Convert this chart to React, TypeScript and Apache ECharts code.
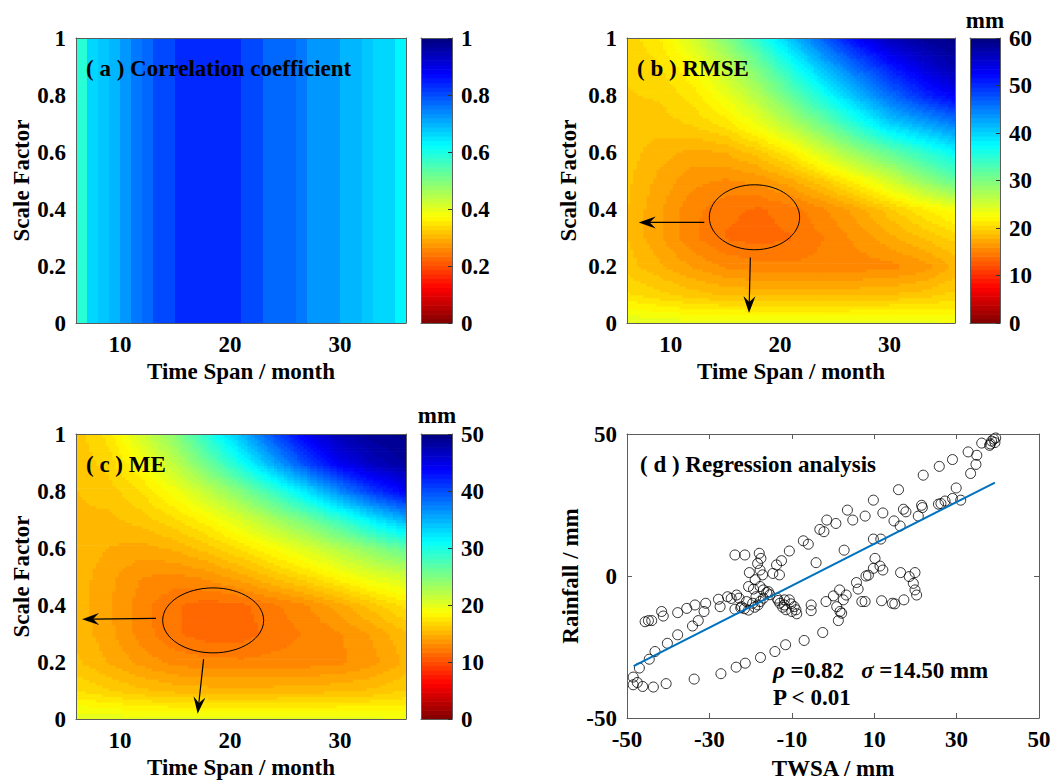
import React, { useEffect, useRef } from "react";
import * as echarts from "echarts";

const FONT = "'Liberation Serif', 'Times New Roman', Times, serif";

// ---------------- Panel (a): correlation coefficient per time span (month stripes) ----------------
const corrStartMonths = [6, 7, 8, 9, 10, 11, 12, 13, 14, 15, 16, 17, 18, 19, 20, 21, 22, 23, 24, 25, 26, 27, 28, 29, 30, 31, 32, 33, 34, 35];
const corrValues = [0.58, 0.66, 0.68, 0.7, 0.73, 0.75, 0.78, 0.8, 0.8, 0.83, 0.83, 0.83, 0.83, 0.83, 0.83, 0.8, 0.8, 0.78, 0.77, 0.77, 0.75, 0.73, 0.73, 0.72, 0.7, 0.7, 0.68, 0.66, 0.66, 0.63];

// ---------------- Panels (b), (c): grid nodes ----------------
const gridMonths = [6, 9, 12, 15, 18, 21, 24, 27, 30, 33, 36];
const gridScales = [0, 0.1, 0.2, 0.3, 0.4, 0.5, 0.6, 0.7, 0.8, 0.9, 1.0];

// RMSE (mm), one row per scale factor (0 -> 1), columns follow gridMonths
const rmseRows = [
  [24.5, 24.3, 24, 24, 24, 24, 24, 24, 24, 23.8, 23.5],
  [20.8, 20, 19.2, 18.7, 18.5, 18.5, 18.5, 18.6, 18.8, 19.2, 20],
  [19.2, 18, 16.8, 15.8, 15.3, 15.2, 15.3, 15.4, 15.6, 16.3, 18],
  [18.8, 17, 15.2, 14, 13.7, 14, 15, 16.2, 17.5, 18.8, 20],
  [18.8, 17, 15.3, 14.3, 13.9, 14.5, 15.8, 17.3, 19.3, 21.3, 23],
  [19, 17.5, 16.2, 15.8, 16.2, 17.5, 19.5, 22, 25, 28.5, 31.5],
  [19.2, 18.2, 17.5, 17.8, 19.2, 21.5, 25, 28.5, 31.5, 34.5, 37.5],
  [19.4, 19.2, 19.8, 21, 23.5, 27, 31, 35.5, 40, 42.5, 45],
  [19.6, 19.8, 21, 23.5, 27, 31.5, 36.5, 41.5, 46, 50, 53],
  [19.8, 20.5, 22.5, 26, 30.5, 36, 41.5, 46.5, 51, 54.5, 57.5],
  [20, 21.5, 25, 29.5, 35, 41, 47, 52.5, 56.5, 58.5, 59.5],
];

// ME (mm)
const meRows = [
  [20.3, 20.2, 20, 20, 20, 20, 20, 20, 20, 19.8, 19.5],
  [17.2, 16.5, 15.8, 15.4, 15.2, 15.2, 15.2, 15.3, 15.5, 15.8, 16.5],
  [15.8, 14.8, 13.8, 13, 12.8, 12.7, 12.8, 12.9, 13.1, 13.8, 15],
  [15.4, 14.3, 12.9, 11.8, 11.3, 11.3, 12, 12.6, 13.2, 14.2, 15.5],
  [15.3, 14.2, 12.8, 11.8, 11.3, 11.5, 12.3, 13.2, 14.5, 16, 17.5],
  [15.3, 14.3, 13.3, 13, 13.5, 14.5, 15.8, 17, 18.5, 20, 21],
  [15.4, 14.8, 14.5, 15, 16, 17.3, 18.8, 20.5, 22.5, 24.5, 26.5],
  [15.5, 15.4, 16, 17, 18.5, 20.5, 23, 25.5, 28.5, 32, 35],
  [15.6, 16, 17.2, 19.2, 21.8, 24.8, 28.5, 32.5, 37, 41, 44],
  [15.8, 16.8, 19, 22, 26, 30.5, 35.5, 40.5, 44.5, 47, 48.5],
  [16, 17.5, 21, 24.5, 29.5, 34.5, 40, 44.5, 47.5, 49, 49.5],
];

// colour bar ranges / tick steps
const corrMax = 1, corrStep = 0.2;
const rmseMax = 60, rmseStep = 10;
const meMax = 50, meStep = 10;
const colormapLevels = 64;

// ---------------- Panel (d): regression scatter ----------------
const twsa = [
  38.5, 39.0, 39.3, 38.2, 38.0, 39.5, 36.1, 32.8, 34.9, 34.7, 33.4, 29.0, 25.8, 21.9, 15.9, 29.9, 31.0, 29.0, 27.2, 26.2, 25.6, 21.5, 21.7, 20.7, 17.7, 17.1, 16.3, 14.8, 12.1, 9.8, 7.8, 11.6, 9.8,
  10.2, 9.8, 12.1, 11.4, 8.0, 8.6, 16.4, 19.9, 18.5, 19.5, 19.9, 20.3, 17.2, 15.0, 14.4, 11.8, 7.8, 7.0, 5.7, 6.1,
  -1.7, 0.1, 1.6, 3.2, 2.5, 0.9, 1.7, 2.1, 1.3,
  4.8, 3.5, 0.7, -1.5, -3.2, -2.2, -7.2, -6.0, -10.6, 2.7, -4.1, -21.4, -23.8, -17.9, -17.5, -12.5, -13.7, -13.0, -14.6, -20.3, -18.3, -17.7, -17.1, -18.9,
  -20.5, -19.3, -17.7, -16.9, -15.7, -23.4, -22.8, -23.8, -22.2, -20.5, -19.5, -18.7, -17.7, -16.9, -16.1, -15.3, -21.0, -19.0, -21.5, -18.2,
  -13.6, -12.9, -13.3, -11.8, -11.4, -10.6, -10.2, -9.4, -9.0, -8.8, -11.8, -5.3, -5.3, -12.2, -10.0,
  -25.6, -27.8, -27.4, -30.9, -31.3, -33.5, -35.5, -37.7, -32.7, -34.1, -41.6, -41.2, -45.6, -44.8, -44.0, -24.7, -22.4,
  -37.7, -40.2, -43.2, -44.6, -47.0, -48.5, -48.5, -47.5, -46.2, -43.6, -40.5, -33.7, -27.2, -23.5, -21.3, -17.6, -14.1, -11.5, -7.0, -2.5,
];
const rainfall = [
  47.5, 48.2, 47.0, 46.5, 46.0, 48.6, 46.8, 43.7, 42.5, 39.3, 36.1, 41.0, 38.6, 35.5, 30.4, 31.0, 26.7, 27.3, 26.4, 25.5, 25.3, 24.9, 24.1, 21.1, 22.6, 23.5, 17.6, 19.4, 22.2, 26.7, 21.1, 13.0, 13.0,
  6.2, 2.7, 2.1, 3.5, 0.0, 0.3, 1.2, 1.2, -0.2, -2.6, -4.9, -6.7, -8.4, -9.8, -9.6, -8.7, -9.0, -9.0, -2.3, -4.6,
  -9.0, -7.0, -4.9, -6.7, -8.4, -10.8, -12.5, -13.1, -15.7,
  19.7, 23.2, 18.5, 19.7, 16.4, 15.6, 12.4, 11.2, 8.8, 9.1, 4.7, 7.4, 7.4, 8.0, 6.2, 5.4, 3.9, 0.4, 0.9, 1.2, 4.4, 2.1, 0.4, -1.3,
  -3.7, -4.6, -3.7, -4.9, -5.5, -6.7, -7.8, -11.7, -10.8, -12.0, -9.6, -7.3, -9.0, -7.8, -5.8, -6.6, -9.0, -11.0, -11.5, -10.2,
  -7.8, -9.6, -8.6, -10.2, -11.9, -8.4, -9.8, -10.8, -11.9, -13.3, -8.4, -10.2, -12.2, -11.0, -12.5,
  -7.3, -8.2, -10.8, -9.6, -12.5, -10.2, -11.4, -12.9, -15.7, -17.6, -12.5, -14.1, -16.1, -15.7, -15.7, -7.9, -11.2,
  -20.7, -23.7, -26.6, -29.3, -32.4, -35.6, -38.3, -37.5, -38.9, -39.1, -37.9, -36.3, -34.4, -32.1, -30.7, -28.7, -26.6, -24.2, -22.7, -19.9,
];
const fitX = [-48.4, 39.3];
const fitY = [-31.7, 32.9];

// annotations (data coordinates)
const rmseEllipse = { t: 17.66, s: 0.371, dt: 4.13, ds: 0.114 };
const rmseArrowH = [[13.07, 0.353], [7.07, 0.353]];
const rmseArrowV = [[17.28, 0.23], [17.16, 0.035]];
const meEllipse = { t: 18.47, s: 0.346, dt: 4.59, ds: 0.114 };
const meArrowH = [[13.27, 0.353], [6.55, 0.35]];
const meArrowV = [[17.6, 0.21], [17.06, 0.018]];

// ---------------- helpers ----------------
function clamp01(x: number) {
  return Math.max(0, Math.min(1, x));
}
// reversed MATLAB jet, quantised to 64 colours; frac 0 -> dark red, 1 -> dark blue
function jetColor(frac: number) {
  let idx = Math.floor(frac * colormapLevels);
  if (idx < 0) idx = 0;
  if (idx > colormapLevels - 1) idx = colormapLevels - 1;
  const t = 1 - (idx + 0.5) / colormapLevels;
  const r = clamp01(1.5 - Math.abs(4 * t - 3));
  const g = clamp01(1.5 - Math.abs(4 * t - 2));
  const b = clamp01(1.5 - Math.abs(4 * t - 1));
  return `rgb(${Math.round(r * 255)},${Math.round(g * 255)},${Math.round(b * 255)})`;
}

function fieldItems(rows: number[][]) {
  const items: number[][] = [];
  for (let j = 0; j < gridScales.length - 1; j++) {
    for (let i = 0; i < gridMonths.length - 1; i++) {
      items.push([
        gridMonths[i], gridScales[j], gridMonths[i + 1], gridScales[j + 1],
        rows[j][i], rows[j][i + 1], rows[j + 1][i], rows[j + 1][i + 1],
      ]);
    }
  }
  return items;
}

function makeFieldRender(maxVal: number) {
  return function (_params: any, api: any) {
    const p0 = api.coord([api.value(0), api.value(1)]);
    const p1 = api.coord([api.value(2), api.value(3)]);
    const v00 = api.value(4), v10 = api.value(5), v01 = api.value(6), v11 = api.value(7);
    const N = 10;
    const dx = (p1[0] - p0[0]) / N;
    const dy = (p1[1] - p0[1]) / N;
    const children: any[] = [];
    for (let b = 0; b < N; b++) {
      const v = (b + 0.5) / N;
      const yTop = p0[1] + (b + 1) * dy;
      let runStart = 0;
      let runColor = "";
      for (let a = 0; a <= N; a++) {
        let c = "__end";
        if (a < N) {
          const u = (a + 0.5) / N;
          const val = v00 * (1 - u) * (1 - v) + v10 * u * (1 - v) + v01 * (1 - u) * v + v11 * u * v;
          c = jetColor(val / maxVal);
        }
        if (a === 0) {
          runColor = c;
          continue;
        }
        if (c !== runColor) {
          children.push({
            type: "rect",
            shape: { x: p0[0] + runStart * dx, y: yTop, width: (a - runStart) * dx + 0.7, height: -dy + 0.7 },
            style: { fill: runColor },
          });
          runStart = a;
          runColor = c;
        }
      }
    }
    return { type: "group", children };
  };
}

function colorbarItems(maxVal: number) {
  const items: number[][] = [];
  for (let k = 0; k < colormapLevels; k++) {
    items.push([(k / colormapLevels) * maxVal, ((k + 1) / colormapLevels) * maxVal, 0.5, k]);
  }
  return items;
}
function colorbarRender(_params: any, api: any) {
  const p0 = api.coord([0, api.value(0)]);
  const p1 = api.coord([1, api.value(1)]);
  const k = api.value(3);
  return {
    type: "rect",
    shape: { x: p0[0], y: p1[1], width: p1[0] - p0[0], height: p0[1] - p1[1] + 0.6 },
    style: { fill: jetColor((k + 0.5) / colormapLevels) },
  };
}

const FS = 23;
const textBase = { fontFamily: FONT, fontWeight: "bold" as const, fontSize: FS, color: "#000" };
const LINE = "#5c5c5c";
const lineOnly = { show: true, onZero: false, lineStyle: { color: LINE, width: 1 } };

function hiddenAxisParts() {
  return { axisTick: { show: false }, axisLabel: { show: false }, splitLine: { show: false } };
}

export default function App() {
  const ref = useRef<HTMLDivElement>(null);

  useEffect(() => {
    const chart = echarts.init(ref.current!, undefined, { renderer: "svg" });

    const grids = [
      { left: 76, top: 38, width: 330, height: 285 },
      { left: 421, top: 38, width: 31, height: 285 },
      { left: 627, top: 38, width: 328, height: 285 },
      { left: 970, top: 38, width: 30, height: 285 },
      { left: 76, top: 434, width: 330, height: 285 },
      { left: 421, top: 434, width: 31, height: 285 },
      { left: 627, top: 434, width: 412, height: 284 },
    ];

    const xAxes: any[] = [];
    const yAxes: any[] = [];

    // heat-map panels (grids 0, 2, 4)
    const heatX = (g: number) => [
      {
        type: "value", gridIndex: g, position: "bottom", min: 6, max: 36, z: 10,
        axisLine: lineOnly, axisTick: { show: false }, splitLine: { show: false },
        axisLabel: { ...textBase, margin: 10, customValues: [10, 20, 30] },
        name: "Time Span / month", nameLocation: "middle", nameGap: 37, nameTextStyle: textBase,
      },
      { type: "value", gridIndex: g, position: "top", min: 6, max: 36, z: 10, axisLine: lineOnly, ...hiddenAxisParts() },
    ];
    const heatY = (g: number, gap: number) => [
      {
        type: "value", gridIndex: g, position: "left", min: 0, max: 1, interval: 0.2, z: 10,
        axisLine: lineOnly, axisTick: { show: false }, splitLine: { show: false },
        axisLabel: { ...textBase, margin: 10 },
        name: "Scale Factor", nameLocation: "middle", nameGap: gap, nameTextStyle: textBase,
      },
      { type: "value", gridIndex: g, position: "right", min: 0, max: 1, z: 10, axisLine: lineOnly, ...hiddenAxisParts() },
    ];
    const cbarX = (g: number) => [
      { type: "value", gridIndex: g, position: "bottom", min: 0, max: 1, z: 10, axisLine: lineOnly, ...hiddenAxisParts() },
      { type: "value", gridIndex: g, position: "top", min: 0, max: 1, z: 10, axisLine: lineOnly, ...hiddenAxisParts() },
    ];
    const cbarY = (g: number, max: number, step: number) => [
      { type: "value", gridIndex: g, position: "left", min: 0, max, interval: step, z: 10, axisLine: lineOnly, ...hiddenAxisParts() },
      {
        type: "value", gridIndex: g, position: "right", min: 0, max, interval: step, z: 10,
        axisLine: lineOnly, splitLine: { show: false },
        axisTick: { show: true, inside: true, length: 4, lineStyle: { color: "#333" } },
        axisLabel: { ...textBase, margin: 9 },
      },
    ];

    xAxes.push(...heatX(0), ...cbarX(1), ...heatX(2), ...cbarX(3), ...heatX(4), ...cbarX(5));
    yAxes.push(...heatY(0, 43), ...cbarY(1, corrMax, corrStep), ...heatY(2, 47), ...cbarY(3, rmseMax, rmseStep), ...heatY(4, 43), ...cbarY(5, meMax, meStep));

    // scatter panel (grid 6)
    const tickIn = { show: true, inside: true, length: 5, lineStyle: { color: LINE } };
    xAxes.push(
      {
        type: "value", gridIndex: 6, position: "bottom", min: -50, max: 50, interval: 20, z: 10,
        axisLine: lineOnly, axisTick: tickIn, splitLine: { show: false },
        axisLabel: { ...textBase, margin: 10 },
        name: "TWSA / mm", nameLocation: "middle", nameGap: 39, nameTextStyle: textBase,
      },
      {
        type: "value", gridIndex: 6, position: "top", min: -50, max: 50, interval: 20, z: 10,
        axisLine: lineOnly, axisTick: tickIn, axisLabel: { show: false }, splitLine: { show: false },
      }
    );
    yAxes.push(
      {
        type: "value", gridIndex: 6, position: "left", min: -50, max: 50, interval: 50, z: 10,
        axisLine: lineOnly, axisTick: tickIn, splitLine: { show: false },
        axisLabel: { ...textBase, margin: 10 },
        name: "Rainfall / mm", nameLocation: "middle", nameGap: 35, nameTextStyle: textBase,
      },
      {
        type: "value", gridIndex: 6, position: "right", min: -50, max: 50, interval: 50, z: 10,
        axisLine: lineOnly, axisTick: tickIn, axisLabel: { show: false }, splitLine: { show: false },
      }
    );

    const series: any[] = [
      {
        type: "custom", xAxisIndex: 0, yAxisIndex: 0, clip: true, silent: true,
        data: corrStartMonths.map((m, i) => [m, m + 1, corrValues[i]]),
        encode: { x: [0, 1], y: 2 },
        renderItem: (_p: any, api: any) => {
          const a = api.coord([api.value(0), 1]);
          const b = api.coord([api.value(1), 0]);
          return {
            type: "rect",
            shape: { x: a[0], y: a[1], width: b[0] - a[0] + 0.6, height: b[1] - a[1] },
            style: { fill: jetColor(api.value(2) / corrMax) },
          };
        },
      },
      { type: "custom", xAxisIndex: 2, yAxisIndex: 2, clip: true, silent: true, data: colorbarItems(corrMax), encode: { x: 2, y: [0, 1] }, renderItem: colorbarRender },
      { type: "custom", xAxisIndex: 4, yAxisIndex: 4, clip: true, silent: true, data: fieldItems(rmseRows), encode: { x: [0, 2], y: [1, 3] }, renderItem: makeFieldRender(rmseMax) },
      { type: "custom", xAxisIndex: 6, yAxisIndex: 6, clip: true, silent: true, data: colorbarItems(rmseMax), encode: { x: 2, y: [0, 1] }, renderItem: colorbarRender },
      { type: "custom", xAxisIndex: 8, yAxisIndex: 8, clip: true, silent: true, data: fieldItems(meRows), encode: { x: [0, 2], y: [1, 3] }, renderItem: makeFieldRender(meMax) },
      { type: "custom", xAxisIndex: 10, yAxisIndex: 10, clip: true, silent: true, data: colorbarItems(meMax), encode: { x: 2, y: [0, 1] }, renderItem: colorbarRender },
      {
        type: "scatter", xAxisIndex: 12, yAxisIndex: 12, symbol: "circle", symbolSize: 10,
        itemStyle: { color: "rgba(0,0,0,0)", borderColor: "#000", borderWidth: 1 },
        data: twsa.map((x, i) => [x, rainfall[i]]),
      },
      {
        type: "line", xAxisIndex: 12, yAxisIndex: 12, symbol: "none",
        lineStyle: { color: "#0072BD", width: 2 },
        data: fitX.map((x, i) => [x, fitY[i]]),
      },
    ];

    chart.setOption({
      animation: false,
      backgroundColor: "#fff",
      grid: grids,
      xAxis: xAxes,
      yAxis: yAxes,
      series,
    });

    const px = (ax: number, p: number[]) => chart.convertToPixel({ xAxisIndex: ax, yAxisIndex: ax }, p) as number[];

    const ellipseEl = (ax: number, e: { t: number; s: number; dt: number; ds: number }) => {
      const c = px(ax, [e.t, e.s]);
      const r = px(ax, [e.t + e.dt, e.s + e.ds]);
      return {
        type: "ellipse", z: 50,
        shape: { cx: c[0], cy: c[1], rx: Math.abs(r[0] - c[0]), ry: Math.abs(r[1] - c[1]) },
        style: { fill: "rgba(0,0,0,0)", stroke: "#000", lineWidth: 1 },
      };
    };
    const arrowEls = (ax: number, seg: number[][]) => {
      const a = px(ax, seg[0]);
      const b = px(ax, seg[1]);
      const len = Math.hypot(b[0] - a[0], b[1] - a[1]);
      const dx = (b[0] - a[0]) / len, dy = (b[1] - a[1]) / len;
      const nx = -dy, ny = dx;
      const L = 17, W = 6, notch = 11;
      return [
        { type: "line", z: 50, shape: { x1: a[0], y1: a[1], x2: b[0] - dx * notch, y2: b[1] - dy * notch }, style: { stroke: "#000", lineWidth: 1.2 } },
        {
          type: "polygon", z: 51,
          shape: {
            points: [
              [b[0], b[1]],
              [b[0] - dx * L + nx * W, b[1] - dy * L + ny * W],
              [b[0] - dx * notch, b[1] - dy * notch],
              [b[0] - dx * L - nx * W, b[1] - dy * L - ny * W],
            ],
          },
          style: { fill: "#000" },
        },
      ];
    };
    const label = (x: number, y: number, text: string, extra: any = {}) => ({
      type: "text", x, y, z: 60,
      style: { text, fontFamily: FONT, fontWeight: "bold", fontSize: FS, fill: "#000", align: "left", verticalAlign: "middle", ...extra },
    });

    chart.setOption({
      graphic: [
        label(86, 68, "( a ) Correlation coefficient"),
        label(637, 68, "( b ) RMSE"),
        label(86, 464, "( c ) ME"),
        label(640, 464, "( d ) Regression analysis"),
        label(985, 20, "mm", { align: "center" }),
        label(437, 415, "mm", { align: "center" }),
        label(773, 670, "{i|ρ} =0.82   {i|σ} =14.50 mm", {
          rich: { i: { fontStyle: "italic", fontWeight: "bold", fontFamily: FONT, fontSize: FS, fill: "#000" } },
        }),
        label(773, 697, "P < 0.01"),
        ellipseEl(4, rmseEllipse),
        ...arrowEls(4, rmseArrowH),
        ...arrowEls(4, rmseArrowV),
        ellipseEl(8, meEllipse),
        ...arrowEls(8, meArrowH),
        ...arrowEls(8, meArrowV),
      ],
    });

    return () => chart.dispose();
  }, []);

  return (
    <div
      ref={ref}
      style={{ position: "absolute", left: 0, top: 0, width: 1063, height: 783, background: "#fff" }}
    />
  );
}
